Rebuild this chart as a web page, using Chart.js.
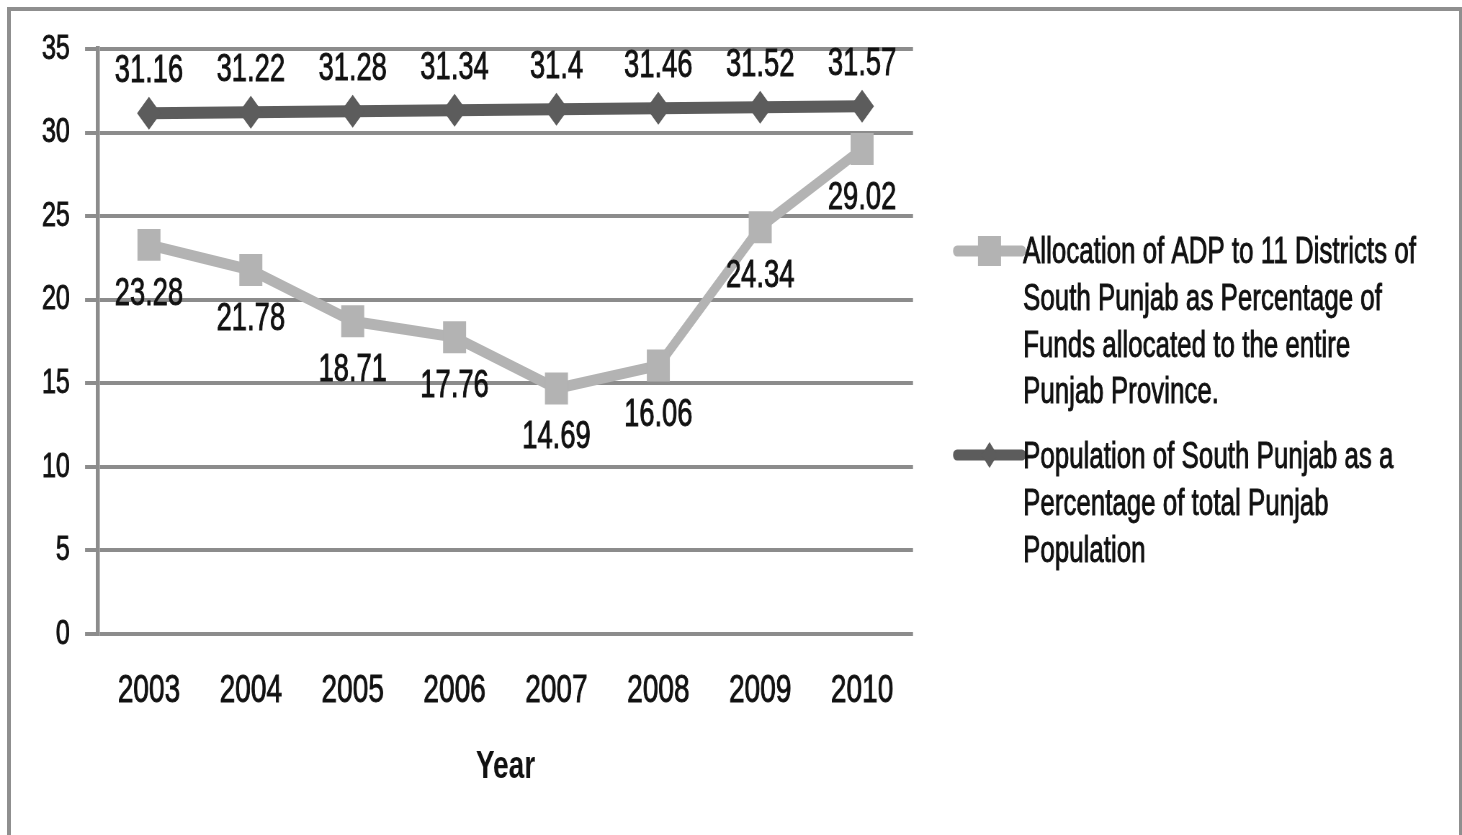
<!DOCTYPE html>
<html>
<head>
<meta charset="utf-8">
<script src="https://cdn.jsdelivr.net/npm/chart.js@4/dist/chart.umd.min.js"></script>
<style>
  html, body { margin: 0; padding: 0; background: #fff; overflow: hidden; }
  #wrap { position: relative; width: 1462px; height: 835px; overflow: hidden; }
  /* chart is laid out wide and squeezed horizontally to get the narrow look */
  #squeeze { position: absolute; left: 0; top: 0; width: 2030px; height: 835px;
             transform: scaleX(0.72020); transform-origin: 0 0; }
  #frame {
    position: absolute; left: 7px; top: 7px; width: 1448px; height: 900px;
    border: 4px solid #8f8f8f; pointer-events: none;
  }
</style>
</head>
<body>
<div id="wrap">
  <div id="squeeze"><canvas id="chart" width="2030" height="835" style="width:2030px;height:835px"></canvas></div>
  <div id="frame"></div>
</div>
<script>
  // Data
  const years = ['2003', '2004', '2005', '2006', '2007', '2008', '2009', '2010'];
  const adpShare = [23.28, 21.78, 18.71, 17.76, 14.69, 16.06, 24.34, 29.02];
  const populationShare = [31.16, 31.22, 31.28, 31.34, 31.4, 31.46, 31.52, 31.57];
  const adpLegend = [
    'Allocation of ADP to 11 Districts of',
    'South Punjab as Percentage of',
    'Funds allocated to the entire',
    'Punjab Province.'
  ];
  const populationLegend = [
    'Population of South Punjab as a',
    'Percentage of total Punjab',
    'Population'
  ];
  const yMin = 0;
  const yMax = 35;
  const yStep = 5;

  const FONT = "'Liberation Sans', Arial, sans-serif";
  const TEXT = '#111111';
  const GRID = '#8c8c8c';
  const ADP_COLOR = '#b3b3b3';
  const POP_COLOR = '#5c5c5c';
  const STROKE = 0.9; // slight outline so the text reads a bit heavier

  // canvas units per screen pixel, horizontally
  const canvas = document.getElementById('chart');
  const sx = canvas.width / 1462;

  function heavyText(ctx, t, x, y) {
    ctx.strokeText(t, x, y);
    ctx.fillText(t, x, y);
  }

  // Value labels next to each point
  const valueLabels = {
    id: 'valueLabels',
    afterDatasetsDraw(chart) {
      const ctx = chart.ctx;
      ctx.save();
      ctx.font = `38px ${FONT}`;
      ctx.fillStyle = TEXT;
      ctx.strokeStyle = TEXT;
      ctx.lineWidth = STROKE;
      ctx.textAlign = 'center';
      ctx.textBaseline = 'alphabetic';
      chart.data.datasets.forEach((ds, i) => {
        const meta = chart.getDatasetMeta(i);
        meta.data.forEach((pt, j) => {
          const below = ds.labelPos === 'below';
          const y = below ? pt.y + 60 : pt.y - 31;
          heavyText(ctx, String(ds.data[j]), pt.x, y);
        });
      });
      ctx.restore();
    }
  };

  // Legend on the right with wrapped text
  const sideLegend = {
    id: 'sideLegend',
    afterDraw(chart) {
      const ctx = chart.ctx;
      const x0 = 957 * sx, x1 = 1022 * sx, tx = 1023 * sx;
      const items = [
        { ds: chart.data.datasets[0], lines: adpLegend, y: 251, first: 263 },
        { ds: chart.data.datasets[1], lines: populationLegend, y: 455, first: 468 }
      ];
      ctx.save();
      items.forEach(item => {
        const c = item.ds.borderColor;
        ctx.strokeStyle = c;
        ctx.lineWidth = 11;
        ctx.lineCap = 'round';
        ctx.beginPath();
        ctx.moveTo(x0, item.y);
        ctx.lineTo(x1, item.y);
        ctx.stroke();
        ctx.fillStyle = c;
        const mx = (x0 + x1) / 2;
        ctx.beginPath();
        if (item.ds.pointStyle === 'rect') {
          ctx.rect(mx - 16, item.y - 15, 32, 30);
        } else {
          ctx.moveTo(mx, item.y - 13);
          ctx.lineTo(mx + 11, item.y);
          ctx.lineTo(mx, item.y + 13);
          ctx.lineTo(mx - 11, item.y);
          ctx.closePath();
        }
        ctx.fill();
        ctx.fillStyle = TEXT;
        ctx.strokeStyle = TEXT;
        ctx.lineWidth = STROKE;
        ctx.font = `36px ${FONT}`;
        ctx.textAlign = 'left';
        ctx.textBaseline = 'alphabetic';
        item.lines.forEach((t, k) => heavyText(ctx, t, tx, item.first + k * 46.8));
      });
      ctx.restore();
    }
  };

  new Chart(canvas, {
    type: 'line',
    data: {
      labels: years,
      datasets: [
        {
          label: adpLegend.join(' '),
          data: adpShare,
          borderColor: ADP_COLOR,
          backgroundColor: ADP_COLOR,
          borderWidth: 11,
          borderJoinStyle: 'round',
          borderCapStyle: 'round',
          tension: 0,
          pointStyle: 'rect',
          pointRadius: 22.6,
          pointBorderWidth: 0,
          labelPos: 'below'
        },
        {
          label: populationLegend.join(' '),
          data: populationShare,
          borderColor: POP_COLOR,
          backgroundColor: POP_COLOR,
          borderWidth: 12,
          borderJoinStyle: 'round',
          borderCapStyle: 'round',
          tension: 0,
          pointStyle: 'rectRot',
          pointRadius: 16.5,
          pointBorderWidth: 0,
          labelPos: 'above'
        }
      ]
    },
    options: {
      responsive: false,
      devicePixelRatio: 1,
      animation: false,
      events: [],
      layout: { padding: { top: 49, right: canvas.width - 913 * sx, left: 0, bottom: 0 } },
      plugins: {
        legend: { display: false },
        tooltip: { enabled: false }
      },
      scales: {
        x: {
          offset: true,
          grid: { display: false, drawTicks: false },
          border: { display: false },
          ticks: {
            color: TEXT,
            font: { family: FONT, size: 39 },
            textStrokeColor: TEXT,
            textStrokeWidth: STROKE,
            padding: 34,
            maxRotation: 0,
            autoSkip: false
          },
          title: {
            display: true,
            text: 'Year',
            color: TEXT,
            font: { family: FONT, size: 39, weight: 'bold' },
            padding: { top: 44, bottom: 44 }
          },
          afterFit(scale) { scale.height = 835 - 634; }
        },
        y: {
          min: yMin,
          max: yMax,
          ticks: {
            stepSize: yStep,
            color: TEXT,
            font: { family: FONT, size: 35 },
            textStrokeColor: TEXT,
            textStrokeWidth: STROKE,
            padding: 21
          },
          grid: {
            color: GRID,
            lineWidth: 4,
            tickLength: 18,
            tickColor: GRID,
            tickWidth: 4
          },
          border: { color: GRID, width: 5.5 },
          afterFit(scale) { scale.width = 98 * sx; }
        }
      }
    },
    plugins: [valueLabels, sideLegend]
  });
</script>
</body>
</html>
